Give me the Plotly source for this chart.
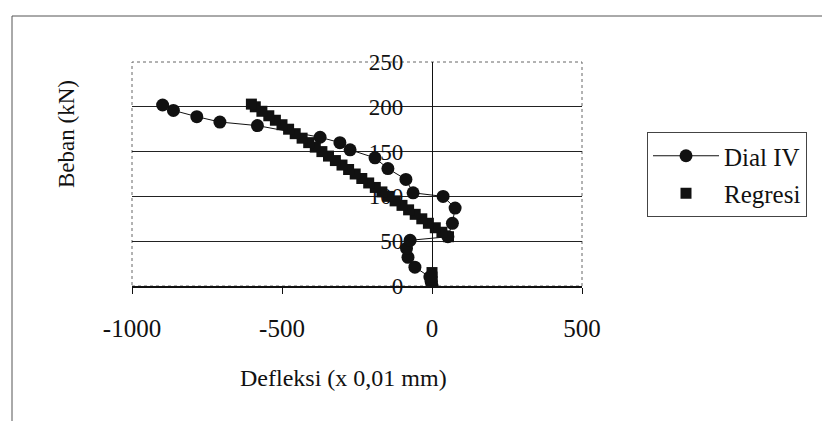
import plotly.graph_objects as go

# ---- data ----
dial_x = [0, -3, -7, -57, -80, -85, -73, 53, 68, 77, 37, -63, -87, -147, -190,
          -273, -307, -373, -582, -707, -784, -862, -898]
dial_y = [0, 5, 10, 21, 32, 42, 51, 55, 70, 87, 100, 104, 119, 131, 143,
          152, 160, 166, 179, 183, 189, 196, 202]

reg_x = [0, 0, 0, 0, 55, 33, 11, -12, -34, -56, -78, -100, -123, -145, -167, -189,
         -211, -234, -256, -278, -300, -322, -345, -367, -389, -411, -433,
         -456, -478, -500, -522, -544, -567, -589, -602]
reg_y = [0, 5, 10, 15, 55, 60, 65, 70, 75, 80, 85, 90, 95, 100, 105, 110,
         115, 120, 125, 130, 135, 140, 145, 150, 155, 160, 165,
         170, 175, 180, 185, 190, 195, 200, 203]

x_ticks = [-1000, -500, 0, 500]
y_ticks = [0, 50, 100, 150, 200, 250]

FONT = "Liberation Serif, Times New Roman, serif"
INK = "#111111"

fig = go.Figure()
fig.add_trace(go.Scatter(
    x=dial_x, y=dial_y, mode="lines+markers", name="Dial IV",
    legendgroup="a",
    line=dict(color=INK, width=1),
    marker=dict(symbol="circle", size=13, color=INK),
))
fig.add_trace(go.Scatter(
    x=reg_x, y=reg_y, mode="markers", name="Regresi",
    legendgroup="b",
    marker=dict(symbol="square", size=11, color=INK),
))

# plot area: px 132..582 horizontally, 62..286 vertically
L, R, T, B = 132, 240, 62, 135
W, H = 822 - L - R, 421 - T - B

def px(xp):
    return (xp - L) / W

def py(yp):
    return (421 - B - yp) / H

fig.update_layout(
    width=822, height=421,
    margin=dict(l=L, r=R, t=T, b=B),
    paper_bgcolor="white", plot_bgcolor="white",
    font=dict(family=FONT, size=24, color=INK),
    showlegend=True,
    legend=dict(
        x=px(647), y=py(132), xanchor="left", yanchor="top",
        bordercolor="#444", borderwidth=1, bgcolor="white",
        font=dict(family=FONT, size=25, color=INK),
        itemwidth=66, tracegroupgap=2,
    ),
    xaxis=dict(
        range=[-1000, 500], tickvals=x_ticks, ticktext=[str(v) for v in x_ticks],
        showgrid=False, zeroline=False,
        showline=True, linecolor=INK, linewidth=1.5,
        ticks="outside", ticklen=6, tickcolor=INK, tickwidth=1,
        ticklabelstandoff=13,
        tickfont=dict(family=FONT, size=25, color=INK),
    ),
    yaxis=dict(
        range=[0, 250], tickvals=y_ticks, ticktext=[str(v) for v in y_ticks],
        showgrid=True, gridcolor="#222", gridwidth=1,
        zeroline=False,
        anchor="free", position=2 / 3,
        showline=True, linecolor=INK, linewidth=1.2,
        ticks="outside", ticklen=0, tickcolor="rgba(0,0,0,0)",
        ticklabelstandoff=24,
        tickfont=dict(family=FONT, size=23, color=INK),
    ),
    annotations=[
        dict(text="Defleksi (x 0,01 mm)", xref="paper", yref="paper",
             x=px(343), y=py(378), xanchor="center", yanchor="middle",
             showarrow=False, font=dict(family=FONT, size=24, color=INK)),
        dict(text="Beban (kN)", xref="paper", yref="paper",
             x=px(66), y=py(134), xanchor="center", yanchor="middle",
             textangle=-90, showarrow=False,
             font=dict(family=FONT, size=23, color=INK)),
    ],
    shapes=[
        # plot-area border (dotted)
        dict(type="rect", xref="paper", yref="paper", x0=0, y0=0, x1=1, y1=1,
             line=dict(color="#666", width=1, dash="dot"), layer="below"),
        # outer chart frame (left and top edges visible)
        dict(type="line", xref="paper", yref="paper",
             x0=px(12), x1=px(12), y0=py(16), y1=py(421),
             line=dict(color="#555", width=1)),
        dict(type="line", xref="paper", yref="paper",
             x0=px(12), x1=px(822), y0=py(16), y1=py(16),
             line=dict(color="#555", width=1)),
    ],
)

fig.write_html("out.html")
